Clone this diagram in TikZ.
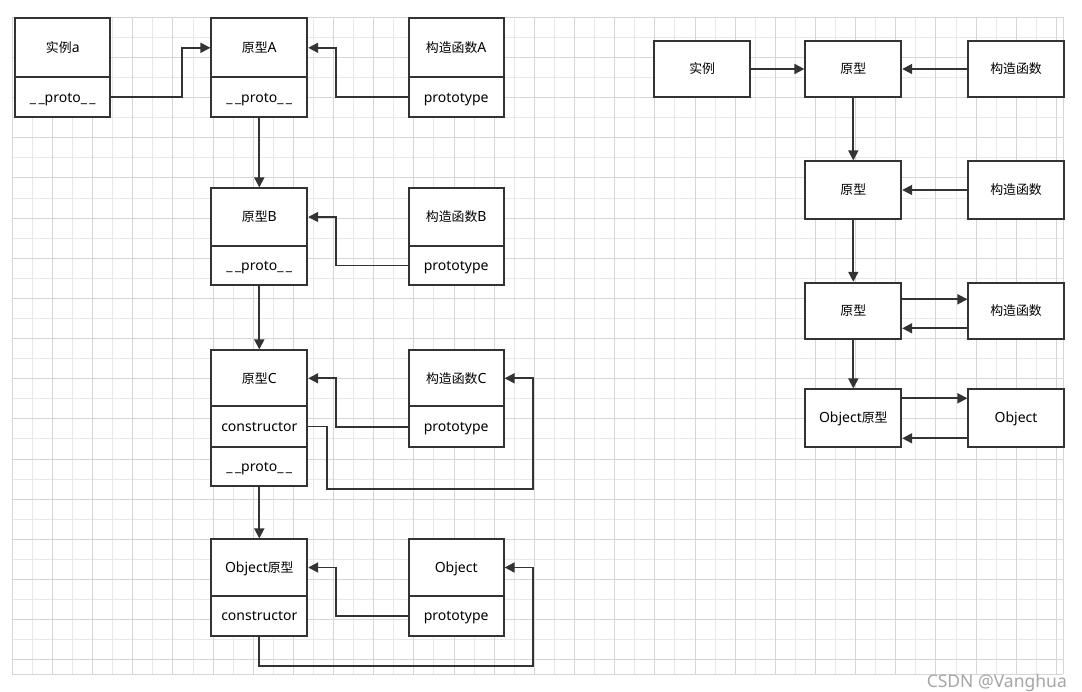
\documentclass[tikz,border=0pt]{standalone}
\usepackage{fontspec}
\setmainfont{Noto Sans}
\newfontfamily\cjk{Noto Sans CJK SC}[Scale=0.92]
\usetikzlibrary{arrows.meta,calc}
\definecolor{linec}{HTML}{333333}
\definecolor{gridmaj}{HTML}{D6D6D6}
\definecolor{gridmin}{HTML}{E8E8E8}
\definecolor{wm}{HTML}{A6A6A6}
\tikzset{
  box/.style={draw=linec, line width=1.8pt, fill=white, inner sep=0pt, text=black,
    text height=13pt, text depth=3pt,
    font=\fontsize{14}{16}\selectfont},
  lw/.style={box, minimum width=96pt},
  kw/.style={box, minimum width=95pt},
  arr/.style={draw=linec, line width=1.8pt, -{Triangle[length=10pt,width=10pt]}},
  conn/.style={draw=linec, line width=1.8pt}
}
\begin{document}
\begin{tikzpicture}[x=1pt,y=-1pt]
\useasboundingbox (0,0) rectangle (1082,692);
\fill[white] (0,0) rectangle (1082,692);
% grid
\foreach \k in {1,3,...,51} \draw[gridmin, line width=1pt] (12.3+20.08*\k,17.3) -- (12.3+20.08*\k,674);
\foreach \k in {1,3,...,31} \draw[gridmin, line width=1pt] (12.3,17.3+20.08*\k) -- (1063,17.3+20.08*\k);
\foreach \k in {0,2,...,52} \draw[gridmaj, line width=1pt] (12.3+20.08*\k,17.3) -- (12.3+20.08*\k,674);
\foreach \k in {0,2,...,32} \draw[gridmaj, line width=1pt] (12.3,17.3+20.08*\k) -- (1063,17.3+20.08*\k);
\draw[gridmaj, line width=1pt] (1063,17.3) -- (1063,674) (12.3,674) -- (1063,674);

% ---- left diagram ----
\node[box, minimum width=95pt, minimum height=59pt] (ia) at (62.8,47.8) {{\cjk 实例}a};
\node[box, minimum width=95pt, minimum height=40pt] (iaP) at (62.8,97.3) {\_\,\_proto\_\,\_};

\node[lw, minimum height=59pt] (pA) at (259.3,47.8) {{\cjk 原型}A};
\node[lw, minimum height=40pt] (pAP) at (259.3,97.3) {\_\,\_proto\_\,\_};
\node[kw, minimum height=59pt] (kA) at (456.2,47.8) {{\cjk 构造函数}A};
\node[kw, minimum height=40pt] (kAP) at (456.2,97.3) {prototype};

\node[lw, minimum height=57.4pt] (pB) at (259.3,217) {{\cjk 原型}B};
\node[lw, minimum height=39.6pt] (pBP) at (259.3,265.5) {\_\,\_proto\_\,\_};
\node[kw, minimum height=57.4pt] (kB) at (456.2,217) {{\cjk 构造函数}B};
\node[kw, minimum height=39.6pt] (kBP) at (456.2,265.5) {prototype};

\node[lw, minimum height=56pt] (pC) at (259.3,378.3) {{\cjk 原型}C};
\node[lw, minimum height=40.4pt] (pCc) at (259.3,426.5) {constructor};
\node[lw, minimum height=39.3pt] (pCP) at (259.3,466.35) {\_\,\_proto\_\,\_};
\node[kw, minimum height=56pt] (kC) at (456.2,378.3) {{\cjk 构造函数}C};
\node[kw, minimum height=41pt] (kCP) at (456.2,426.8) {prototype};

\node[lw, minimum height=56.4pt] (pO) at (259.3,567.5) {Object{\cjk 原型}};
\node[lw, minimum height=40.3pt] (pOc) at (259.3,615.85) {constructor};
\node[kw, minimum height=56.4pt] (kO) at (456.2,567.5) {Object};
\node[kw, minimum height=40.3pt] (kOP) at (456.2,615.85) {prototype};

\coordinate (c1) at (533.3,489.3);
\coordinate (c2) at (533.3,666);

\draw[arr] (iaP.east) -- ++(71,0) |- (pA.west);
\draw[arr] (kAP.west) -- ++(-71.5,0) |- (pA.east);
\draw[arr] (pAP.south) -- (pB.north);
\draw[arr] (kBP.west) -- ++(-71.5,0) |- (pB.east);
\draw[arr] (pBP.south) -- (pC.north);
\draw[arr] (kCP.west) -- ++(-71.5,0) |- (pC.east);
\draw[arr] (pCc.east) -- ++(19,0) |- (c1) |- (kC.east);
\draw[arr] (pCP.south) -- (pO.north);
\draw[arr] (kOP.west) -- ++(-71.5,0) |- (pO.east);
\draw[arr] (pOc.south) |- (c2) |- (kO.east);

% ---- right diagram ----
\node[lw, minimum height=56.6pt] (rI) at (702.2,69) {{\cjk 实例}};
\node[lw, minimum height=56.6pt] (r1) at (853.3,69) {{\cjk 原型}};
\node[box, minimum width=95.4pt, minimum height=56.6pt] (k1) at (1016,69) {{\cjk 构造函数}};
\node[lw, minimum height=57.4pt] (r2) at (853.3,190) {{\cjk 原型}};
\node[box, minimum width=95.4pt, minimum height=57.4pt] (k2) at (1016,190) {{\cjk 构造函数}};
\node[lw, minimum height=56.6pt] (r3) at (853.3,311) {{\cjk 原型}};
\node[box, minimum width=95.4pt, minimum height=56.6pt] (k3) at (1016,311) {{\cjk 构造函数}};
\node[lw, minimum height=57.4pt] (r4) at (853.3,418) {Object{\cjk 原型}};
\node[box, minimum width=95.4pt, minimum height=57.4pt] (k4) at (1016,418) {Object};

\draw[arr] (rI.east) -- (r1.west);
\draw[arr] (k1.west) -- (r1.east);
\draw[arr] (r1.south) -- (r2.north);
\draw[arr] (k2.west) -- (r2.east);
\draw[arr] (r2.south) -- (r3.north);
\draw[arr] ($(r3.east)+(0,-11.7)$) -- ($(k3.west)+(0,-11.7)$);
\draw[arr] ($(k3.west)+(0,17.3)$) -- ($(r3.east)+(0,17.3)$);
\draw[arr] (r3.south) -- (r4.north);
\draw[arr] ($(r4.east)+(0,-19.7)$) -- ($(k4.west)+(0,-19.7)$);
\draw[arr] ($(k4.west)+(0,20.3)$) -- ($(r4.east)+(0,20.3)$);

% watermark
\node[anchor=east, inner sep=0pt, text=wm, font=\fontsize{17.5}{20}\selectfont] (wmk) at (1067,683) {CSDN @Vanghua};
\end{tikzpicture}
\end{document}
